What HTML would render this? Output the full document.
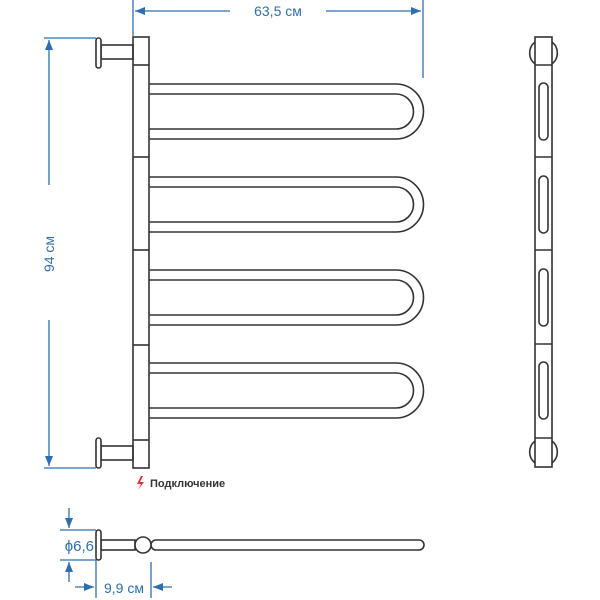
<!DOCTYPE html>
<html><head><meta charset="utf-8"><style>body{margin:0;background:#fff}svg{display:block}</style></head><body>
<svg width="600" height="600" viewBox="0 0 600 600" xmlns="http://www.w3.org/2000/svg">
<defs>
<marker id="a" markerWidth="10" markerHeight="8" refX="10" refY="4" orient="auto" markerUnits="userSpaceOnUse"><path d="M0,0 L10,4 L0,8 Z" fill="#2d6fb0"/></marker>
<g id="loop"><path d="M149,0 H396 A27.5,27.5 0 0 1 396,55 H149 M149,10 H396 A17.5,17.5 0 0 1 396,45 H149" fill="none" stroke="#333" stroke-width="1.6"/></g>
</defs>
<g fill="none" stroke="#2d6fb0" stroke-width="1.3">
<line x1="133" y1="0" x2="133" y2="36"/><line x1="423" y1="0" x2="423" y2="78"/>
<line x1="135" y1="11" x2="230" y2="11" marker-end="url(#a)" transform="rotate(180 182.5 11)"/>
<line x1="326" y1="11" x2="421" y2="11" marker-end="url(#a)"/>
<line x1="44" y1="38" x2="96" y2="38"/><line x1="44" y1="468" x2="96" y2="468"/>
<line x1="49" y1="185" x2="49" y2="40" marker-end="url(#a)"/>
<line x1="49" y1="320" x2="49" y2="466" marker-end="url(#a)"/>
<line x1="60" y1="530" x2="96" y2="530"/><line x1="60" y1="560" x2="96" y2="560"/>
<line x1="69" y1="508" x2="69" y2="528" marker-end="url(#a)"/>
<line x1="69" y1="582" x2="69" y2="562" marker-end="url(#a)"/>
<line x1="96" y1="560" x2="96" y2="598"/><line x1="151" y1="562" x2="151" y2="598"/>
<line x1="75" y1="587" x2="94" y2="587" marker-end="url(#a)"/>
<line x1="172" y1="587" x2="153" y2="587" marker-end="url(#a)"/>
</g>
<g fill="#2d6fb0" font-family="Liberation Sans, sans-serif" font-size="14">
<text x="278" y="16" text-anchor="middle">63,5 см</text>
<text transform="translate(54,254) rotate(-90)" text-anchor="middle">94 см</text>
<text x="94" y="551" text-anchor="end" font-size="15">ϕ6,6</text>
<text x="124" y="593" text-anchor="middle">9,9 см</text>
</g>
<g fill="none" stroke="#333" stroke-width="1.6">
<rect x="133" y="37" width="16" height="431" fill="#fff"/>
<line x1="133" y1="65" x2="149" y2="65"/><line x1="133" y1="440" x2="149" y2="440"/>
<line x1="133" y1="157" x2="149" y2="157"/><line x1="133" y1="250" x2="149" y2="250"/><line x1="133" y1="345" x2="149" y2="345"/>
<rect x="101" y="45" width="32" height="14"/><rect x="96" y="38" width="5" height="30" rx="2.5" fill="#fff"/>
<rect x="101" y="446" width="32" height="14"/><rect x="96" y="438" width="5" height="30" rx="2.5" fill="#fff"/>
<use href="#loop" y="84"/><use href="#loop" y="177"/><use href="#loop" y="270"/><use href="#loop" y="363"/>
<path d="M535,42 A14,14 0 0 0 535,64 M552,42 A14,14 0 0 1 552,64 M535,441 A14,14 0 0 0 535,463 M552,441 A14,14 0 0 1 552,463"/>
<rect x="535" y="37" width="17" height="430" fill="#fff"/>
<line x1="535" y1="65" x2="552" y2="65"/><line x1="535" y1="438" x2="552" y2="438"/>
<line x1="535" y1="157" x2="552" y2="157"/><line x1="535" y1="250" x2="552" y2="250"/><line x1="535" y1="344" x2="552" y2="344"/>
<rect x="539" y="83" width="9" height="57" rx="4.5"/><rect x="539" y="176" width="9" height="57" rx="4.5"/>
<rect x="539" y="269" width="9" height="57" rx="4.5"/><rect x="539" y="362" width="9" height="57" rx="4.5"/>
<rect x="101" y="540" width="34" height="10"/>
<rect x="151" y="540" width="273" height="10" rx="5"/>
<rect x="96" y="530" width="5" height="30" rx="2.5" fill="#fff"/>
<circle cx="143" cy="545" r="8" fill="#fff"/>
</g>
<path d="M141,476 L137,484 L141,484 L138,490 L144,482 L140,482 L143,476 Z" fill="#e53030"/>
<text x="150" y="487" font-family="Liberation Sans, sans-serif" font-size="11" font-weight="bold" fill="#333">Подключение</text>
</svg>
</body></html>
